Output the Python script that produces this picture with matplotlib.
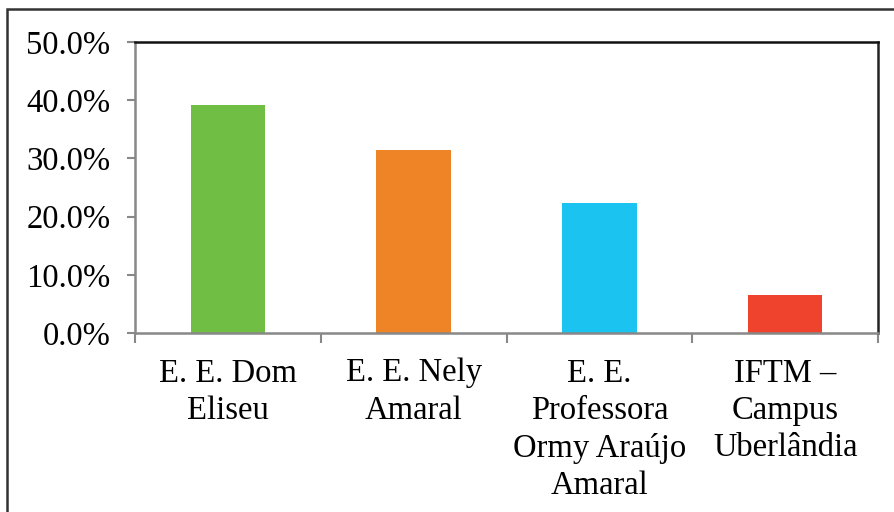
import matplotlib
matplotlib.use("Agg")
import matplotlib.pyplot as plt
from matplotlib.patches import Rectangle
from matplotlib.ticker import FuncFormatter

categories = ["E. E. Dom\nEliseu", "E. E. Nely\nAmaral", "E. E.\nProfessora\nOrmy Araújo\nAmaral", "IFTM –\nCampus\nUberlândia"]
values = [39.2, 31.5, 22.4, 6.6]
colors = ["#70bf44", "#ef8427", "#1bc3f0", "#ef432d"]
yticks = [0, 10, 20, 30, 40, 50]

plt.rcParams['font.family'] = ['Liberation Serif', 'DejaVu Serif']

fig = plt.figure(figsize=(8.94, 5.12), dpi=100)
W, H = 894, 512
ax = fig.add_axes([135/W, 1-333/H, (878-135)/W, (333-42)/H])

x = range(len(categories))
ax.bar(x, values, width=0.40, color=colors, zorder=2)
ax.set_xlim(-0.5, len(categories)-0.5)
ax.set_ylim(0, 50)
ax.set_yticks(yticks)
ax.yaxis.set_major_formatter(FuncFormatter(lambda v, p: f"{v:.1f}%"))
ax.set_xticks([i - 0.5 for i in range(len(categories)+1)], minor=False)
ax.set_xticklabels([])
ax.set_xticks(list(x), minor=True)
ax.set_xticklabels(categories, minor=True, fontsize=23.5, linespacing=1.29, va='top')
ax.tick_params(axis='x', which='minor', length=0, pad=18)
ax.tick_params(axis='x', which='major', length=7.2, width=1.5, color='#888888', direction='out')
ax.tick_params(axis='y', length=5.8, width=1.5, color='#888888', direction='out', labelsize=23.5, pad=12)

ax.spines['left'].set_color('#888888')
ax.spines['bottom'].set_color('#888888')
ax.spines['left'].set_linewidth(1.8)
ax.spines['bottom'].set_linewidth(1.8)
ax.spines['top'].set_color('#111111')
ax.spines['right'].set_color('#222222')
ax.spines['top'].set_linewidth(1.8)
ax.spines['right'].set_linewidth(1.8)

frame = Rectangle((7/W, -0.1), 1.1, 1.1 - 9/H, transform=fig.transFigure,
                  fill=False, edgecolor='#333333', linewidth=1.8, clip_on=False)
fig.patches.append(frame)

fig.savefig("out.png", dpi=100)
